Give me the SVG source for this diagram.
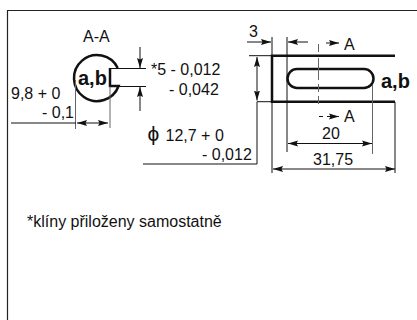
<svg xmlns="http://www.w3.org/2000/svg" width="417" height="320" viewBox="0 0 417 320">
<defs>
<marker id="a" markerWidth="10" markerHeight="8" refX="10" refY="4" orient="auto-start-reverse" markerUnits="userSpaceOnUse"><path d="M0 1L10 4L0 7L1.500 4Z" fill="#111"/></marker>
</defs>
<style>
text{font-family:"Liberation Sans",Arial,sans-serif;font-size:16px;fill:#111}
.b{font-weight:bold;font-size:20px}
.t{fill:none;stroke:#111;stroke-width:1}
.k{fill:none;stroke:#111;stroke-width:2.500}
.g{fill:none;stroke:#666;stroke-width:1}
</style>
<rect width="417" height="320" fill="#fff"/>
<path id="frame" d="M7.500 320V10.500H417" fill="none" stroke="#222" stroke-width="1.200"/>
<g id="section-aa">
<path class="k" d="M117.700 68A23 23 0 1 0 118.600 86H110V68"/>
<path class="t" d="M110 68.500H146"/>
<text class="b" x="78" y="85">a,b</text>
<text x="83" y="42">A-A</text>
</g>
<g id="side-view">
<path class="k" d="M395 55.700H272V101.700H395"/>
<rect class="k" x="287.500" y="69" width="86" height="19" rx="9.500"/>
<text class="b" x="381" y="88">a,b</text>
<text x="344" y="50">A</text>
<text x="344" y="122">A</text>
</g>
<g id="connectors">
<path class="g" d="M75.500 80V129M110 86V128"/>
<path class="t" d="M11 123H76"/>
<path class="t" marker-start="url(#a)" marker-end="url(#a)" d="M77 123H108"/>
<path class="t" marker-end="url(#a)" d="M140 47V68"/>
<path class="t" marker-end="url(#a)" d="M140 111V87"/>
<path class="t" d="M110 86.500H146"/>
<path class="t" d="M143 164H257V101.700H272"/>
<path class="t" d="M249 55.700H272"/>
<path class="t" marker-start="url(#a)" marker-end="url(#a)" d="M257 57V100.500"/>
<path class="t" d="M272 37V173M287 37V152"/>
<path class="g" d="M372.500 85V154"/>
<path class="t" marker-end="url(#a)" d="M247 42H271"/>
<path class="t" marker-end="url(#a)" d="M308 42H288"/>
<path class="g" stroke-dasharray="8 6 22 4 8 4" d="M318.500 44V108"/>
<path class="t" marker-end="url(#a)" d="M326 43H339"/>
<path class="t" stroke-dasharray="4 4" marker-end="url(#a)" d="M319 116.500H339"/>
<path class="t" marker-start="url(#a)" marker-end="url(#a)" d="M288 143.500H372"/>
<path class="t" marker-start="url(#a)" marker-end="url(#a)" d="M273 169H395"/>
<path class="t" d="M395 102V173"/>
</g>
<g id="labels">
<text x="151" y="75">*5 - 0,012</text>
<text x="169" y="95">- 0,042</text>
<text x="11" y="99">9,8 + 0</text>
<text x="42" y="118">- 0,1</text>
<text x="147.500" y="141" style="font-size:21px">ϕ</text><text x="165.500" y="141">12,7 + 0</text>
<text x="202" y="160">- 0,012</text>
<text x="249" y="37">3</text>
<text x="322" y="139">20</text>
<text x="313" y="165">31,75</text>
<text x="27" y="227">*klíny přiloženy samostatně</text>
</g>
</svg>
